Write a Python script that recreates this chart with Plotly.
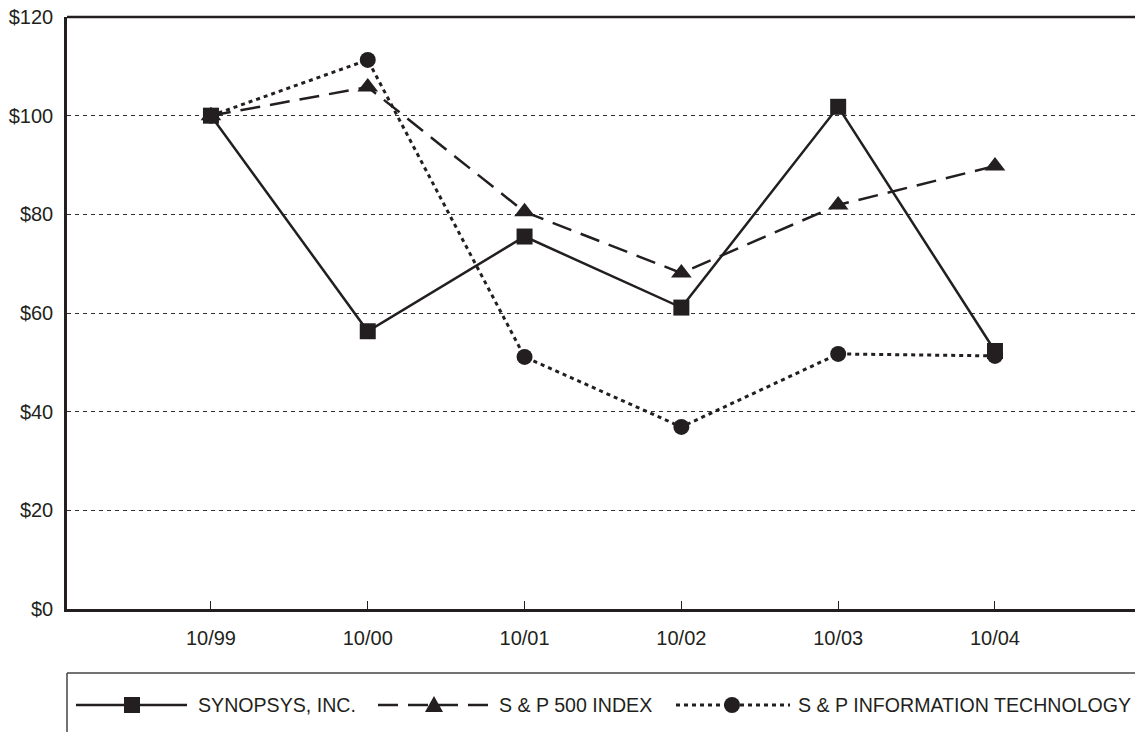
import plotly.graph_objects as go

periods = ["10/99", "10/00", "10/01", "10/02", "10/03", "10/04"]
synopsys = [100.0, 56.3, 75.5, 61.1, 101.8, 52.3]
sp500 = [100.0, 105.8, 80.5, 68.1, 81.9, 89.8]
sp_it = [100.0, 111.3, 51.1, 36.9, 51.7, 51.3]
y_ticks = [0, 20, 40, 60, 80, 100, 120]
y_labels = ["$" + str(v) for v in y_ticks]
series_names = ["SYNOPSYS, INC.", "S & P 500 INDEX", "S & P INFORMATION TECHNOLOGY"]

INK = "#231f20"
FONT = "Liberation Sans, Arial, Helvetica"
W, H = 1135, 732
ML, MR, MT, MB = 67, 0, 17, 123
PW, PH = W - ML - MR, H - MT - MB

xs = list(range(len(periods)))
fig = go.Figure()
fig.add_trace(go.Scatter(x=xs, y=synopsys, mode="lines+markers", name=series_names[0],
                         line=dict(color=INK, width=2.5),
                         marker=dict(symbol="square", size=16, color=INK), cliponaxis=False))
fig.add_trace(go.Scatter(x=xs, y=sp500, mode="lines+markers", name=series_names[1],
                         line=dict(color=INK, width=2.5, dash="20px,10px"),
                         marker=dict(symbol="triangle-up", size=18, color=INK), cliponaxis=False))
fig.add_trace(go.Scatter(x=xs, y=sp_it, mode="lines+markers", name=series_names[2],
                         line=dict(color=INK, width=3, dash="4px,4px"),
                         marker=dict(symbol="circle", size=16, color=INK), cliponaxis=False))

def px_x(p):
    return (p - ML) / PW

def px_y(p):
    return (MT + PH - p) / PH

shapes = []
# top frame line
shapes.append(dict(type="line", xref="paper", yref="paper", x0=0, x1=1, y0=1, y1=1,
                   line=dict(color=INK, width=2.5)))
# legend box
shapes.append(dict(type="line", xref="paper", yref="paper", x0=0, x1=1,
                   y0=px_y(673), y1=px_y(673), line=dict(color="#444", width=1.5)))
shapes.append(dict(type="line", xref="paper", yref="paper", x0=0, x1=0,
                   y0=px_y(673), y1=px_y(734), line=dict(color="#444", width=1.5)))

ly = px_y(705)
legend_items = [
    (76, 187, 132, "solid", 2.5, "square", 196),
    (378, 489, 434, "20px,10px", 2.5, "triangle", 497),
    (676, 790, 732, "4px,4px", 3, "circle", 796),
]
annotations = []
for (x0, x1, xm, dash, lw, sym, tx), name in zip(legend_items, series_names):
    shapes.append(dict(type="line", xref="paper", yref="paper", x0=px_x(x0), x1=px_x(x1),
                       y0=ly, y1=ly, line=dict(color=INK, width=lw, dash=dash)))
    if sym == "square":
        shapes.append(dict(type="rect", xref="paper", yref="paper", xsizemode="pixel",
                           ysizemode="pixel", xanchor=px_x(xm), yanchor=ly,
                           x0=-8, x1=8, y0=-8, y1=8, fillcolor=INK, line=dict(width=0)))
    elif sym == "circle":
        shapes.append(dict(type="circle", xref="paper", yref="paper", xsizemode="pixel",
                           ysizemode="pixel", xanchor=px_x(xm), yanchor=ly,
                           x0=-8, x1=8, y0=-8, y1=8, fillcolor=INK, line=dict(width=0)))
    else:
        shapes.append(dict(type="path", xref="paper", yref="paper", xsizemode="pixel",
                           ysizemode="pixel", xanchor=px_x(xm), yanchor=ly,
                           path="M -9,-7 L 9,-7 L 0,9 Z", fillcolor=INK, line=dict(width=0)))
    annotations.append(dict(text=name, xref="paper", yref="paper", x=px_x(tx), y=ly,
                            xanchor="left", yanchor="middle", showarrow=False,
                            font=dict(family=FONT, size=19.6, color=INK)))

fig.update_layout(
    width=W, height=H,
    margin=dict(l=ML, r=MR, t=MT, b=MB, pad=0),
    paper_bgcolor="white", plot_bgcolor="white",
    showlegend=False,
    shapes=shapes, annotations=annotations,
    font=dict(family=FONT, size=20, color=INK),
    xaxis=dict(range=[-0.918, 5.893], tickvals=xs, ticktext=periods,
               showgrid=False, zeroline=False, showline=True, linecolor=INK, linewidth=2.5,
               ticks="inside", ticklen=8, tickwidth=1, tickcolor=INK,
               tickfont=dict(family=FONT, size=20, color=INK), ticklabelstandoff=9),
    yaxis=dict(range=[0, 120], tickvals=y_ticks, ticktext=y_labels,
               showgrid=True, gridcolor="#333", gridwidth=1, griddash="4px,4px",
               zeroline=False, showline=True, linecolor=INK, linewidth=2.5,
               ticks="", tickfont=dict(family=FONT, size=20, color=INK), ticklabelstandoff=7),
)
fig.write_html("out.html", config={"displayModeBar": False},
               post_script="document.body.style.margin='0';document.body.style.overflow='hidden';")
